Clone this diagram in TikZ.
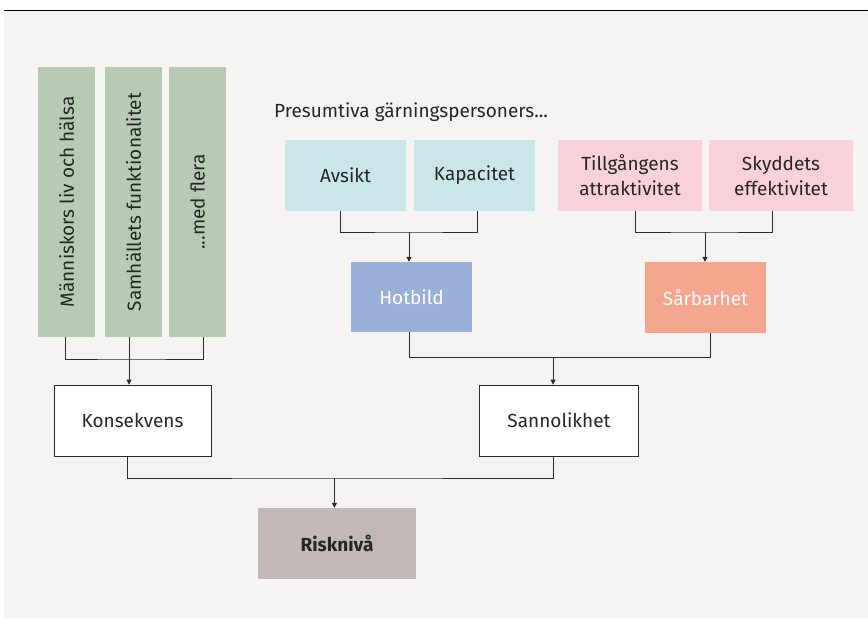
\documentclass[tikz,border=0pt]{standalone}
\usepackage{fontspec}
\setmainfont{Fira Sans}
\usetikzlibrary{arrows.meta,calc}
\definecolor{bg}{HTML}{F5F4F2}
\definecolor{grn}{HTML}{B7CBB4}
\definecolor{cyn}{HTML}{C9E6E8}
\definecolor{pnk}{HTML}{F9D1D8}
\definecolor{blu}{HTML}{9AB0D6}
\definecolor{slm}{HTML}{F4A58D}
\definecolor{tpe}{HTML}{C1B9B5}
\definecolor{ln}{HTML}{2A2A2A}
\begin{document}
\begin{tikzpicture}[x=1pt,y=-1pt,
  every node/.style={font=\fontsize{19}{25}\selectfont, text=black!85, inner sep=0pt},
  box/.style={rectangle, minimum width=121pt, minimum height=71pt, align=center},
  vbox/.style={rectangle, fill=grn, minimum width=270pt, minimum height=57pt, rotate=90},
  wbox/.style={rectangle, fill=white, draw=ln, line width=0.8pt, minimum width=157pt, minimum height=71pt},
  conn/.style={draw=ln, line width=1pt},
  arr/.style={conn, -{Triangle[length=5pt,width=5pt]}}]
\useasboundingbox (0,0) rectangle (868,619);
\fill[bg] (4,11) rectangle (868,618);
\draw[line width=1.6pt, black] (4,10.5) -- (868,10.5);

% green columns
\node[vbox] (b1) at (66.5,202) {Människors liv och hälsa};
\node[vbox] (b2) at (133.5,202) {Samhällets funktionalitet};
\node[vbox] (b3) at (197.5,202) {...med flera};

% top text
\node[anchor=west] (pre) at (274,112) {Presumtiva gärningspersoners...};

% top boxes
\node[box, fill=cyn] (avs) at (345.5,175.5) {Avsikt};
\node[box, fill=cyn] (kap) at (474.5,175.5) {Kapacitet};
\node[box, fill=pnk, minimum width=144pt] (til) at (630,175.5) {Tillgångens\\attraktivitet};
\node[box, fill=pnk, minimum width=144pt] (sky) at (781,175.5) {Skyddets\\effektivitet};

\node[box, fill=blu, text=white, minimum height=70pt] (hot) at (411.5,297) {Hotbild};
\node[box, fill=slm, text=white] (sar) at (705.5,297.5) {Sårbarhet};

\node[wbox] (kon) at (132.5,420.5) {Konsekvens};
\node[wbox, minimum width=159pt] (san) at (559,420.5) {Sannolikhet};

\node[box, fill=tpe, minimum width=158pt, font=\fontsize{19}{25}\selectfont\bfseries] (ris) at (337,543.5) {Risknivå};

% connectors: columns -> Konsekvens
\coordinate (j1) at (129,359);
\draw[conn] ([xshift=-0.8pt]b1.west) |- (j1) -| ([xshift=5.5pt]b3.west);
\draw[arr] ([xshift=-4.5pt]b2.west) -- ([xshift=-3.5pt]kon.north);

% Avsikt, Kapacitet -> Hotbild
\coordinate (j2) at (409,232);
\draw[conn] ([xshift=-5.5pt]avs.south) |- (j2) -| ([xshift=3.2pt]kap.south);
\draw[arr] (j2) -- ([xshift=-2.5pt]hot.north);

% Tillgångens, Skyddets -> Sårbarhet
\coordinate (j3) at (705,232);
\draw[conn] ([xshift=5pt]til.south) |- (j3) -| ([xshift=-9pt]sky.south);
\draw[arr] (j3) -- ([xshift=-0.5pt]sar.north);

% Hotbild, Sårbarhet -> Sannolikhet
\coordinate (j4) at (553,357.7);
\draw[conn] ([xshift=-2.5pt]hot.south) |- (j4) -| ([xshift=5.2pt]sar.south);
\draw[arr] (j4) -- ([xshift=-6pt]san.north);

% Konsekvens, Sannolikhet -> Risknivå
\coordinate (j5) at (334.4,478);
\draw[conn] ([xshift=-5pt]kon.south) |- (j5) -| ([xshift=-6pt]san.south);
\draw[arr] (j5) -- ([xshift=-2.6pt]ris.north);
\end{tikzpicture}
\end{document}
